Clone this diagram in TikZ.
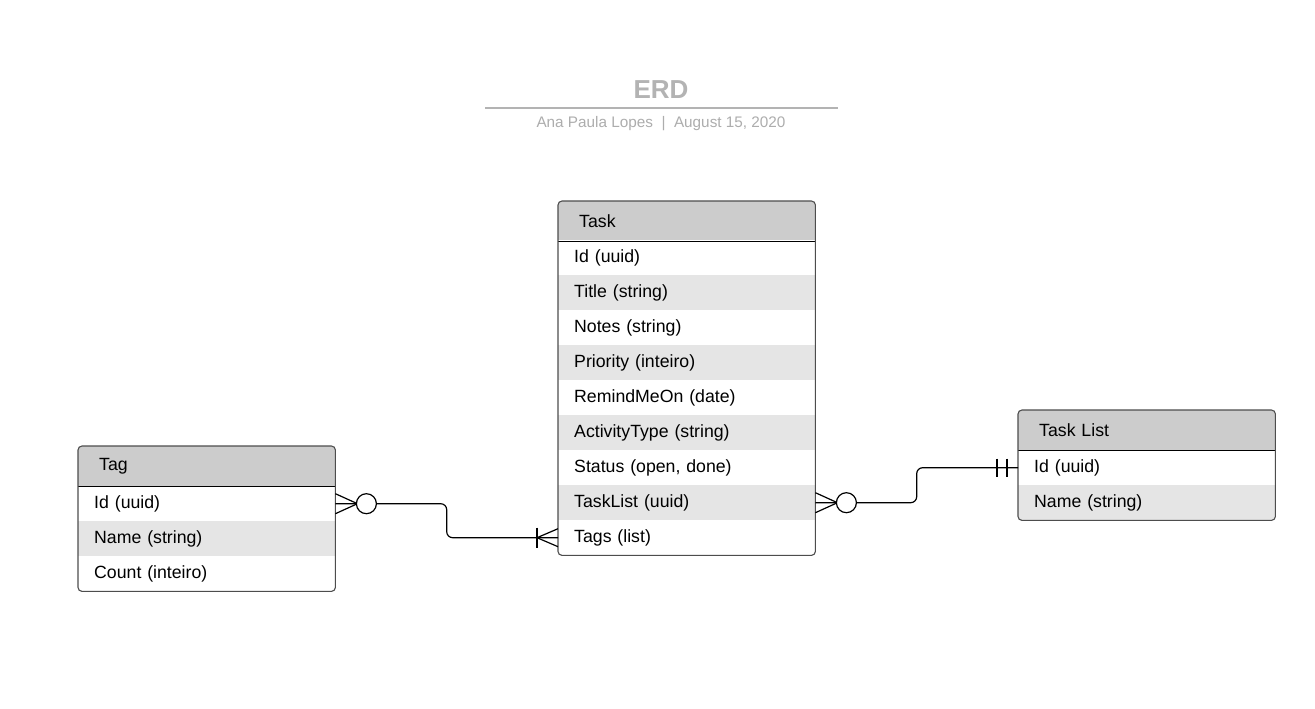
\documentclass[tikz,border=0pt]{standalone}
\usepackage{fontspec}
\setmainfont{Liberation Sans}
\usetikzlibrary{calc}
\definecolor{hdr}{HTML}{CCCCCC}
\definecolor{alt}{HTML}{E5E5E5}
\definecolor{bord}{HTML}{4D4D4D}
\definecolor{ttl}{HTML}{B3B3B3}
\definecolor{sub}{HTML}{ADADAD}
\tikzset{
 cell/.style={anchor=north west, minimum width=257, minimum height=35, text width=225, inner xsep=16, inner ysep=0, align=left, font=\fontsize{17.7}{20}\selectfont},
 hcell/.style={cell, minimum height=40, fill=hdr, inner xsep=21, text width=215},
 wcell/.style={cell, fill=white},
 gcell/.style={cell, fill=alt},
 frame/.style={draw=bord, line width=1.1, rounded corners=4},
 sep/.style={draw=black, line width=1},
 rel/.style={draw=black, line width=1.2},
}
\begin{document}
\begin{tikzpicture}[x=1pt,y=-1pt]
\useasboundingbox[fill=white] (0,0) rectangle (1315,709);
% title
\node[font=\bfseries\fontsize{26}{30}\selectfont, text=ttl] (title) at (661,90) {ERD};
\draw[ttl, line width=2] (485,108) -- (838,108);
\node[font=\fontsize{15.3}{18}\selectfont, text=sub] (subtitle) at (661,124) {Ana Paula Lopes\ \ |\ \ August 15, 2020};
% Task
\begin{scope}
\clip[rounded corners=4] (558,201) rectangle (815,555);
\node[hcell] (task) at (558,201) {Task};
\node[wcell] (task-id) at (558,240) {Id (uuid)};
\node[gcell] (task-title) at (558,275) {Title (string)};
\node[wcell] (task-notes) at (558,310) {Notes (string)};
\node[gcell] (task-priority) at (558,345) {Priority (inteiro)};
\node[wcell] (task-remind) at (558,380) {RemindMeOn (date)};
\node[gcell] (task-activity) at (558,415) {ActivityType (string)};
\node[wcell] (task-status) at (558,450) {Status (open, done)};
\node[gcell] (task-tasklist) at (558,485) {TaskList (uuid)};
\node[wcell] (task-tags) at (558,520) {Tags (list)};
\end{scope}
\draw[sep] (task.south west) -- (task.south east);
\draw[frame] (task.north west) rectangle (task-tags.south east);
% Tag
\begin{scope}
\clip[rounded corners=4] (78,446) rectangle (335,590);
\node[hcell] (tag) at (78,446) {Tag};
\node[wcell] (tag-id) at (78,486) {Id (uuid)};
\node[gcell] (tag-name) at (78,521) {Name (string)};
\node[wcell] (tag-count) at (78,556) {Count (inteiro)};
\end{scope}
\draw[sep] (tag.south west) -- (tag.south east);
\draw[frame] (tag.north west) rectangle (tag-count.south east);
% Task List
\begin{scope}
\clip[rounded corners=4] (1018,410) rectangle (1275,520);
\node[hcell] (tl) at (1018,410) {Task List};
\node[wcell] (tl-id) at (1018,450) {Id (uuid)};
\node[gcell] (tl-name) at (1018,485) {Name (string)};
\end{scope}
\draw[sep] (tl.south west) -- (tl.south east);
\draw[frame] (tl.north west) rectangle (tl-name.south east);
% relation Tag -- Task
\draw[rel, rounded corners=6] (tag-id.east) -| ($(tag-id.east)!.5!(task-tags.west)$) |- (task-tags.west);
\draw[rel] ($(tag-id.east)+(0,-10)$) -- ($(tag-id.east)+(22,0)$) -- ($(tag-id.east)+(0,10)$);
\draw[rel, fill=white] ($(tag-id.east)+(31,0)$) circle (10pt);
\draw[rel] ($(task-tags.west)+(0,-9)$) -- ($(task-tags.west)+(-21,0)$) -- ($(task-tags.west)+(0,9)$);
\draw[rel] ($(task-tags.west)+(-21,-10)$) -- ($(task-tags.west)+(-21,10)$);
% relation Task -- Task List
\draw[rel, rounded corners=6] (task-tasklist.east) -| ($(task-tasklist.east)!.5!(tl-id.west)$) |- (tl-id.west);
\draw[rel] ($(task-tasklist.east)+(0,-10)$) -- ($(task-tasklist.east)+(22,0)$) -- ($(task-tasklist.east)+(0,10)$);
\draw[rel, fill=white] ($(task-tasklist.east)+(31,0)$) circle (10pt);
\draw[rel] ($(tl-id.west)+(-21,-9)$) -- ($(tl-id.west)+(-21,9)$);
\draw[rel] ($(tl-id.west)+(-11,-9)$) -- ($(tl-id.west)+(-11,9)$);
\end{tikzpicture}
\end{document}
